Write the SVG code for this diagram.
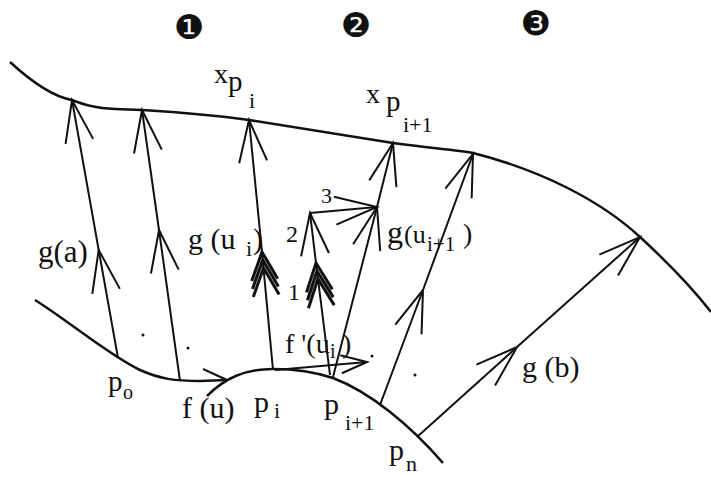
<svg xmlns="http://www.w3.org/2000/svg" width="711" height="477" viewBox="0 0 711 477">
<style>
.ln{fill:none;stroke:#111;stroke-width:2}
.cv{fill:none;stroke:#111;stroke-width:2.5}
.t{font-family:"Liberation Serif","Times New Roman",serif;fill:#111}
.n{font-family:"DejaVu Sans",sans-serif;fill:#111;text-anchor:middle}
</style>
<defs>
<marker id="chev" markerUnits="userSpaceOnUse" markerWidth="60" markerHeight="40" viewBox="-50 -20 60 40" refX="0" refY="0" orient="auto" overflow="visible">
<path d="M-42,-14 L0,0 L-42,14" fill="none" stroke="#111" stroke-width="2"/>
</marker>
<marker id="chevS" markerUnits="userSpaceOnUse" markerWidth="40" markerHeight="30" viewBox="-35 -15 40 30" refX="0" refY="0" orient="auto" overflow="visible">
<path d="M-26,-9 L0,0 L-26,9" fill="none" stroke="#111" stroke-width="2"/>
</marker>
<marker id="tri" markerUnits="userSpaceOnUse" markerWidth="60" markerHeight="40" viewBox="-50 -20 60 40" refX="0" refY="0" orient="auto" overflow="visible">
<path d="M-28,-13 L0,0 L-28,13 M-36,-13 L-8,0 L-36,13 M-44,-13 L-16,0 L-44,13" fill="none" stroke="#111" stroke-width="3"/>
</marker>
</defs>
<rect width="711" height="477" fill="#fff"/>

<g id="curves">
<path class="cv" d="M10,62 C35,85 55,97 72,100 C85,105 95,108 115,109 L142,110 C190,113 220,116 249,120 L393,143 C430,148 455,150 473,153 C540,170 600,200 640,237 C665,260 690,285 711,312"/>
<path class="cv" d="M35,300 C70,322 110,356 140,370 C160,379 175,381 200,381 L227,380"/>
<path class="cv" d="M207,396 C225,378 245,369 273,369 C295,369 315,372 333,378 C370,392 410,425 443,463"/>
</g>

<g id="connectors">
<polyline class="ln" points="118,358 98.7,250 72,100" marker-mid="url(#chev)" marker-end="url(#chev)"/>
<polyline class="ln" points="180,381 159,230 142,110" marker-mid="url(#chev)" marker-end="url(#chev)"/>
<polyline class="ln" points="273,370 262,252 249,120" marker-mid="url(#tri)" marker-end="url(#chev)"/>
<polyline class="ln" points="330,375 316,263 310,213" marker-mid="url(#tri)" marker-end="url(#chev)"/>
<polyline class="ln" points="310,213 377,207" marker-end="url(#chev)"/>
<polyline class="ln" points="333,377 377,207 393,143" marker-mid="url(#chev)" marker-end="url(#chev)"/>
<polyline class="ln" points="380,405 423,290 473,154" marker-mid="url(#chev)" marker-end="url(#chev)"/>
<polyline class="ln" points="417,437 517,347 640,237" marker-mid="url(#chev)" marker-end="url(#chev)"/>
<polyline class="ln" points="275,370 367,362" marker-end="url(#chevS)"/>
<path class="ln" d="M203,369 L227,380"/>
</g>

<g id="dots" fill="#111">
<circle cx="143" cy="335" r="1.5"/>
<circle cx="188" cy="348" r="1.5"/>
<circle cx="372" cy="356" r="1.5"/>
<circle cx="415" cy="375" r="1.5"/>
</g>

<g id="markers">
<text class="n" x="189" y="39" font-size="34">❶</text>
<text class="n" x="356" y="37" font-size="34">❷</text>
<text class="n" x="536" y="35" font-size="34">❸</text>
</g>

<g id="label-xpi">
<text class="t" x="214" y="83" font-size="28">x</text>
<text class="t" x="228" y="91" font-size="29">p</text>
<text class="t" x="249" y="108" font-size="22">i</text>
</g>
<g id="label-xpi1">
<text class="t" x="366" y="103" font-size="28">x</text>
<text class="t" x="386" y="111" font-size="29">p</text>
<text class="t" x="403" y="132" font-size="22">i+1</text>
</g>
<g id="label-ga"><text class="t" x="38" y="262" font-size="31">g(a)</text></g>
<g id="label-gui">
<text class="t" x="188" y="249" font-size="30">g (u</text>
<text class="t" x="246" y="256" font-size="22">i</text>
<text class="t" x="253" y="249" font-size="30">)</text>
</g>
<g id="label-gui1">
<text class="t" x="387" y="243" font-size="32">g</text>
<text class="t" x="404" y="243" font-size="26">(u</text>
<text class="t" x="427" y="251" font-size="21">i+1</text>
<text class="t" x="463" y="243" font-size="28">)</text>
</g>
<g id="label-1"><text class="t" x="288" y="300" font-size="24">1</text></g>
<g id="label-2"><text class="t" x="286" y="242" font-size="24">2</text></g>
<g id="label-3"><text class="t" x="321" y="203" font-size="22">3</text></g>
<g id="label-fpui">
<text class="t" x="285" y="353" font-size="28">f '(u</text>
<text class="t" x="330" y="358" font-size="20">i</text>
<text class="t" x="342" y="353" font-size="28">)</text>
</g>
<g id="label-p0">
<text class="t" x="108" y="391" font-size="29">p</text>
<text class="t" x="123" y="399" font-size="20">o</text>
</g>
<g id="label-fu"><text class="t" x="182" y="418" font-size="30">f (u)</text></g>
<g id="label-pi">
<text class="t" x="254" y="412" font-size="30">p</text>
<text class="t" x="274" y="418" font-size="22">i</text>
</g>
<g id="label-pi1">
<text class="t" x="324" y="414" font-size="30">p</text>
<text class="t" x="345" y="430" font-size="22">i+1</text>
</g>
<g id="label-pn">
<text class="t" x="389" y="460" font-size="30">p</text>
<text class="t" x="406" y="471" font-size="22">n</text>
</g>
<g id="label-gb"><text class="t" x="522" y="377" font-size="30">g (b)</text></g>
</svg>
